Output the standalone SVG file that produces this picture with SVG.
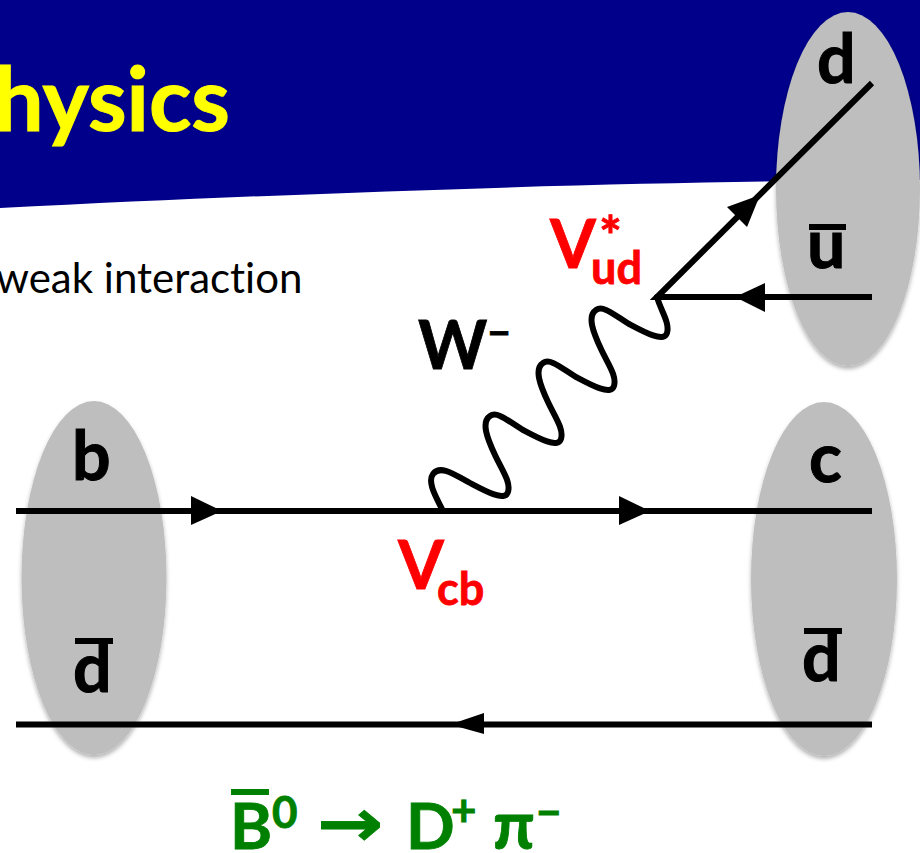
<svg xmlns="http://www.w3.org/2000/svg" width="920" height="853" viewBox="0 0 920 853">
<style>
text{font-family:Lato,"Open Sans","Liberation Sans",sans-serif;font-variant-ligatures:none}
.q{font-weight:700;font-size:68px;fill:#000;stroke:#000;stroke-width:1}
.v{font-weight:700;fill:#f00;stroke:#f00;stroke-width:.8}
.g{font-weight:700;fill:#008000;stroke:#008000;stroke-width:.8}
.l{fill:none;stroke:#000;stroke-width:6}
.w{fill:none;stroke:#000;stroke-width:6;stroke-linecap:round}
.bar{fill:#000}
.oval{fill:#bebebe;filter:url(#sh)}
</style>
<defs>
<filter id="sh" x="-10%" y="-5%" width="120%" height="110%">
<feDropShadow dx="0" dy="3" stdDeviation="2" flood-color="#000" flood-opacity="0.3"/>
</filter>
</defs>
<rect width="920" height="853" fill="#fff"/>
<path id="banner" d="M0 0H920V180C700 181 400 188 0 208Z" fill="#00008b"/>
<text id="title" x="-6" y="131" font-size="88" font-weight="700" fill="#ff0" stroke="#ff0" stroke-width="1">hysics</text>
<text id="subtitle" x="-4" y="293" font-size="42" fill="#000">weak interaction</text>
<g id="meson-b"><ellipse class="oval" cx="94" cy="578" rx="72.5" ry="177"/></g>
<g id="meson-d"><ellipse class="oval" cx="824" cy="579" rx="73" ry="177"/></g>
<g id="meson-pi"><ellipse class="oval" cx="848" cy="189" rx="72" ry="177"/></g>
<g id="connectors">
<path class="l" d="M16 511H872M16 724.500H872M872 83L657 297H872"/>
<path class="w" d="M442 509C436 497 427 482 433 474C440 465 452 473 470 483C485 491 505 502 508 492C511 482 502 470 495 455C487 438 481 422 490 416C497 411 507 420 523 430C538 438 558 449 561 439C564 429 555 417 548 402C540 385 534 369 543 363C550 358 560 367 576 377C591 385 611 396 614 386C617 376 608 364 601 349C593 332 587 316 596 310C603 305 613 314 629 324C644 332 664 343 667 333C670 323 661 311 657 297"/>
<path d="M191 496V525L222 511Z"/>
<path d="M619 496V525L650 511Z"/>
<path d="M484 713V734L450 724.500Z"/>
<path d="M727 207L747 227L760 195Z"/>
<path d="M765 283V312L735 297Z"/>
</g>
<g id="labels">
<text class="q" x="72" y="480">b</text>
<text class="q" x="73" y="692">d</text><rect class="bar" x="75" y="638" width="38" height="6"/>
<text class="q" x="809" y="482">c</text>
<text class="q" x="802" y="681">d</text><rect class="bar" x="804" y="628" width="38" height="6"/>
<text class="q" x="817" y="83">d</text>
<text class="q" x="807" y="268">u</text><rect class="bar" x="809" y="224" width="37" height="6"/>
<text x="418" y="369" font-size="66" font-weight="700" stroke="#000" stroke-width=".8">W<tspan font-size="40" dy="-22">−</tspan></text>
<text class="v" x="398" y="589" font-size="66">V</text>
<text class="v" x="437" y="605" font-size="45">cb</text>
<text class="v" x="550" y="268" font-size="66">V</text>
<text class="v" x="591" y="284" font-size="45">ud</text>
<text class="v" x="599" y="255" font-size="54">*</text>
<text class="g" x="230" y="849" font-size="64">B</text><rect x="231" y="789" width="38" height="6" fill="#008000"/>
<text class="g" x="272" y="828" font-size="44">0</text>
<text class="g" x="0" y="0" font-size="66" transform="translate(317 846) scale(1.2 1)" style="font-family:'DejaVu Sans',sans-serif">→</text>
<text class="g" x="406" y="849" font-size="64">D</text>
<text class="g" x="451" y="826" font-size="44">+</text>
<text class="g" x="493" y="849" font-size="66">π</text>
<text class="g" x="536" y="828" font-size="44">−</text>
</g>
</svg>
